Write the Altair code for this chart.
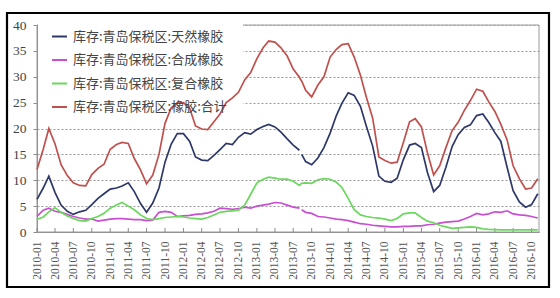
import altair as alt
import pandas as pd

# ---- data ----
months = [f"{y}-{m:02d}-01" for y in range(2010, 2017) for m in range(1, 13)][:83]
# two extra rows mark the short break in Aug 2013
dates = months[:44] + ["2013-08-06", "2013-08-12"] + months[44:]

natural = [6.3, 8.5, 10.8, 7.6, 5.2, 4.0, 3.4, 3.9, 4.2, 5.3,
           6.5, 7.4, 8.3, 8.5, 8.9, 9.5, 7.8, 5.5, 3.8, 5.6,
           8.5, 13.5, 17.0, 19.0, 19.0, 17.5, 14.5, 13.9, 13.8, 14.8,
           15.9, 17.1, 16.9, 18.3, 19.2, 18.9, 19.8, 20.4, 20.8, 20.3,
           19.3, 18.0, 16.8, 15.8,
           None, 15.0,
           13.6, 13.0, 14.3, 16.3, 19.1, 22.5, 24.9, 26.9, 26.4, 24.3,
           20.4, 16.6, 10.8, 9.8, 9.6, 10.4, 14.0, 16.8, 17.1, 16.3,
           11.5, 7.8, 9.0, 12.5, 16.5, 18.8, 20.2, 20.7, 22.5, 22.8,
           21.2, 19.2, 17.5, 12.5, 8.0, 5.8, 4.8, 5.3, 7.4]

synthetic = [3.0, 4.2, 4.6, 4.0, 3.8, 3.4, 3.0, 2.7, 2.5, 2.5,
             2.1, 2.3, 2.5, 2.6, 2.6, 2.5, 2.4, 2.4, 2.2, 2.3,
             3.8, 4.0, 3.8, 3.0, 3.1, 3.2, 3.4, 3.5, 3.7, 4.0,
             4.6, 4.5, 4.4, 4.5, 4.8, 4.6, 5.0, 5.2, 5.4, 5.7,
             5.6, 5.2, 4.8, 4.6,
             None, 4.3,
             3.8, 3.6, 3.0, 2.9, 2.7, 2.5, 2.4, 2.2, 1.9, 1.6,
             1.5, 1.3, 1.2, 1.1, 1.0, 1.0, 1.1, 1.1, 1.2, 1.2,
             1.4, 1.5, 1.7, 1.9, 2.0, 2.1, 2.5, 3.0, 3.6, 3.3,
             3.5, 3.9, 3.8, 4.1, 3.5, 3.3, 3.2, 3.0, 2.7]

composite = [2.4, 2.9, 3.9, 4.7, 3.8, 3.1, 2.6, 2.2, 2.1, 2.6,
             3.0, 3.6, 4.6, 5.2, 5.7, 5.0, 4.3, 3.3, 2.6, 2.4,
             2.6, 2.8, 2.9, 3.0, 2.9, 2.7, 2.6, 2.5, 2.8, 3.3,
             3.8, 4.0, 4.1, 4.2, 5.2, 7.3, 9.5, 10.2, 10.6, 10.4,
             10.2, 10.2, 9.8, 9.0,
             9.2, 9.4,
             9.5, 9.4, 10.1, 10.3, 10.2, 9.6, 8.6, 6.5, 4.3, 3.3,
             3.0, 2.8, 2.7, 2.5, 2.2, 2.6, 3.5, 3.7, 3.7, 2.8,
             2.1, 1.8, 1.3, 1.0, 0.7, 0.8, 0.9, 1.0, 0.9, 0.6,
             0.5, 0.45, 0.4, 0.4, 0.4, 0.4, 0.4, 0.4, 0.4]

total = [12.1, 16.0, 20.0, 17.0, 13.0, 10.9, 9.5, 9.0, 8.9, 11.1,
         12.3, 13.1, 16.0, 16.9, 17.3, 17.1, 14.2, 12.0, 9.3, 11.0,
         15.0, 21.0, 24.0, 24.9, 25.0, 23.9, 20.5, 19.9, 19.8, 21.3,
         22.8, 25.0, 25.9, 27.0, 29.4, 30.8, 33.5, 35.6, 36.9, 36.7,
         35.6, 34.0, 31.5, 29.9,
         29.5, 29.2,
         27.4, 26.1, 28.4, 30.0, 33.8, 35.3, 36.2, 36.4, 33.8, 30.3,
         26.0, 22.0, 14.5, 13.8, 13.3, 13.5, 17.3, 21.3, 21.9, 20.3,
         15.3, 11.0, 12.8, 16.3, 19.6, 21.2, 23.5, 25.4, 27.6, 27.2,
         25.2, 23.3, 20.8, 17.8, 12.8, 10.3, 8.3, 8.5, 10.3]

series_names = ["库存:青岛保税区:天然橡胶", "库存:青岛保税区:合成橡胶",
                "库存:青岛保税区:复合橡胶", "库存:青岛保税区:橡胶:合计"]
series_colors = ["#2e3868", "#c84fd2", "#6ad85c", "#c0504d"]
tick_dates = months[0:82:3]
y_ticks = [0, 5, 10, 15, 20, 25, 30, 35, 40]

# ---- build table ----
frames = []
for name, vals in zip(series_names, [natural, synthetic, composite, total]):
    frames.append(pd.DataFrame({"date": dates, "value": vals, "series": name}))
df = pd.concat(frames, ignore_index=True)
ticks_df = pd.DataFrame({"date": tick_dates})
one = pd.DataFrame({"k": [0]})

W, H = 502, 207


def dt(s):
    y, m, d = s.split("-")
    return alt.DateTime(year=int(y), month=int(m), date=int(d), utc=True)


xscale = alt.Scale(type="utc", domain=[dt("2010-01-01"), dt("2016-11-07")])
xaxis = alt.Axis(values=[dt(s) for s in tick_dates],
                 labelExpr="utcFormat(datum.value, '%Y-%m')",
                 labelAngle=270, labelAlign="right",
                 labelBaseline="middle", labelPadding=9, ticks=False,
                 grid=False, domainColor="#8a8a8a", labelColor="#555555",
                 labelFont="Liberation Serif", labelFontSize=11.5,
                 labelOverlap=False, title=None)

outer = alt.Chart(one).mark_rect(filled=False, stroke="black", strokeWidth=2.2).encode(
    x=alt.value(-30), x2=alt.value(512), y=alt.value(-12), y2=alt.value(262))

frame = alt.Chart(one).mark_rect(filled=False, stroke="#9a9a9a", strokeWidth=1).encode(
    x=alt.value(0), x2=alt.value(W), y=alt.value(0), y2=alt.value(H))

legend_box = alt.Chart(one).mark_rect(fill="white", stroke=None).encode(
    x=alt.value(1), x2=alt.value(206), y=alt.value(-1), y2=alt.value(84))

xticks = alt.Chart(ticks_df).mark_rule(color="#8a8a8a", strokeWidth=1).encode(
    x=alt.X("date:T", scale=xscale, axis=xaxis),
    y=alt.value(H - 4), y2=alt.value(H))

lines = alt.Chart(df).mark_line(strokeWidth=1.7, invalid="break-paths-show-domains").encode(
    x=alt.X("date:T", scale=xscale, axis=xaxis),
    y=alt.Y("value:Q", scale=alt.Scale(domain=[0, 40], nice=False, zero=True),
            axis=alt.Axis(values=y_ticks, grid=True, gridDash=[2, 2], gridColor="#9a9a9a",
                          domainColor="#8a8a8a", tickColor="#8a8a8a", tickSize=4,
                          labelPadding=7, labelColor="#444444",
                          labelFont="Liberation Serif", labelFontSize=13.5,
                          title=None)),
    color=alt.Color("series:N",
                    scale=alt.Scale(domain=series_names, range=series_colors),
                    sort=series_names,
                    legend=alt.Legend(orient="none", legendX=14, legendY=3, title=None,
                                      symbolType="stroke", symbolSize=225,
                                      symbolStrokeWidth=2, labelFont="Noto Sans CJK SC",
                                      labelFontSize=13, labelColor="#444444",
                                      labelOffset=5, rowPadding=7.5, padding=0,
                                      labelLimit=300)),
    detail="series:N",
)

chart = alt.layer(outer, frame, legend_box, xticks, lines).properties(
    width=W, height=H,
    padding={"left": 37, "top": 25, "right": 21, "bottom": 66},
    autosize=alt.AutoSizeParams(type="none"),
    background="white",
).configure_view(stroke=None)

chart.save("out.html", embed_options={"renderer": "svg", "actions": False})
